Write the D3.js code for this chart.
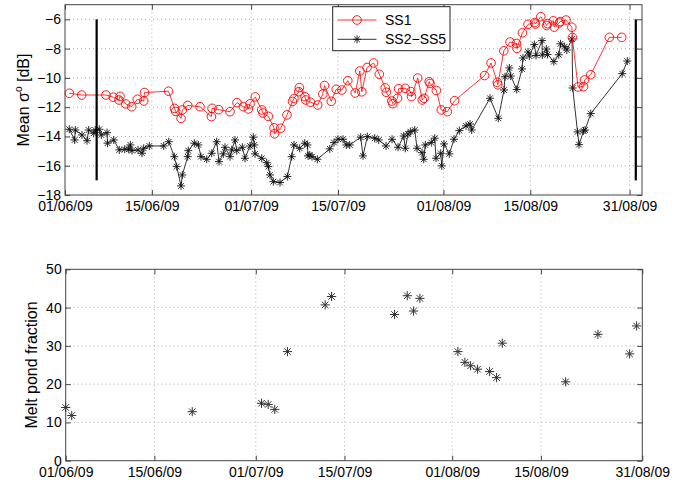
<!DOCTYPE html>
<html><head><meta charset="utf-8">
<script src="https://cdn.jsdelivr.net/npm/d3@7"></script>
<style>
body{margin:0;background:#fff}
svg{display:block}
text{font-family:"Liberation Sans",Arial,Helvetica,sans-serif;fill:#000}
</style>
</head><body>
<svg id="c" width="682" height="482"></svg>
<script>
// ---- data (days since 01/06/2009) ----
const ss1Day = [0.69,2.69,6.61,7.79,8.70,8.87,9.78,10.75,11.65,12.69,12.81,16.68,17.65,17.84,18.70,18.91,19.78,21.76,23.60,23.70,24.77,26.60,27.72,28.74,29.55,29.82,30.67,31.71,31.92,32.77,33.69,33.77,34.77,35.78,36.67,36.91,37.68,37.77,38.68,38.80,39.56,40.73,41.55,41.83,42.91,43.71,44.62,45.58,46.78,47.52,47.84,48.68,49.74,50.66,51.61,51.79,52.68,52.84,53.60,53.76,54.84,55.74,55.85,56.85,57.59,57.87,58.70,58.83,59.85,60.64,61.62,62.80,67.63,68.67,69.68,69.76,70.73,71.73,72.76,72.84,73.73,74.63,75.69,75.82,76.69,77.64,77.79,78.71,78.85,79.67,79.82,80.75,81.69,81.77,82.69,83.59,83.74,84.74,87.73,89.73];
const ss1Val = [-11.05,-11.17,-11.17,-11.32,-11.51,-11.26,-11.78,-11.97,-11.46,-11.58,-11.00,-10.91,-12.08,-12.29,-12.77,-12.19,-11.88,-11.97,-12.65,-12.08,-12.17,-12.31,-11.69,-11.97,-12.12,-11.77,-11.30,-12.19,-12.40,-12.63,-13.41,-13.82,-13.44,-12.53,-11.61,-11.41,-10.94,-10.66,-11.28,-11.51,-11.66,-11.85,-11.11,-10.52,-11.60,-10.78,-10.83,-10.19,-11.03,-9.53,-10.95,-9.29,-8.98,-9.75,-10.68,-10.98,-11.58,-11.76,-11.39,-10.74,-10.71,-10.93,-11.28,-10.01,-11.51,-11.39,-10.26,-10.38,-10.86,-12.19,-12.31,-11.56,-9.84,-8.98,-10.30,-10.47,-8.15,-7.55,-7.65,-7.98,-6.92,-6.34,-6.22,-6.32,-5.82,-6.42,-6.29,-6.10,-6.53,-6.25,-6.15,-6.05,-6.54,-7.24,-10.62,-10.60,-10.14,-9.78,-7.23,-7.23];

const ss25Day = [0.69,1.56,1.66,2.74,3.55,3.82,4.63,4.88,5.53,5.85,6.77,6.85,7.85,8.75,9.62,10.27,10.53,10.80,11.77,12.41,12.69,13.59,15.91,16.72,17.62,18.00,18.70,18.91,19.78,19.87,20.84,21.49,21.92,22.84,23.65,24.45,24.82,25.52,25.79,26.60,26.87,27.40,27.68,28.58,29.01,29.82,30.35,30.51,30.63,31.71,32.51,32.77,33.04,33.58,34.66,35.83,36.54,36.91,37.83,38.64,39.06,39.17,39.44,39.81,40.67,42.67,43.36,44.00,44.81,45.34,45.89,47.66,48.03,48.73,49.92,50.56,51.74,52.71,53.68,54.59,54.85,55.29,55.66,56.37,56.74,57.54,57.82,58.07,59.04,59.59,59.80,60.56,60.72,61.09,61.94,62.70,63.56,64.64,65.28,65.55,68.50,69.84,70.76,70.92,71.62,71.84,72.81,73.66,73.82,74.63,74.84,75.65,75.92,76.89,76.94,77.58,77.77,78.79,79.59,79.87,80.53,80.88,81.72,81.83,82.61,82.85,83.58,83.82,84.74,89.81,90.63];
const ss25Val = [-13.51,-14.24,-13.56,-13.90,-14.29,-13.56,-13.78,-13.56,-13.51,-13.90,-13.74,-14.46,-14.24,-14.92,-14.87,-14.87,-14.58,-14.97,-14.92,-15.15,-14.81,-14.65,-14.65,-14.36,-15.38,-16.06,-17.38,-16.63,-15.38,-14.97,-14.46,-14.58,-15.38,-15.56,-15.15,-14.36,-15.72,-15.19,-14.74,-15.38,-14.92,-14.24,-14.97,-14.74,-15.49,-14.65,-14.05,-14.58,-15.19,-15.49,-15.79,-16.06,-16.63,-17.09,-17.15,-16.74,-15.38,-14.58,-14.81,-14.46,-14.58,-15.33,-15.26,-15.38,-15.56,-14.85,-14.42,-14.19,-14.19,-14.58,-14.58,-14.05,-15.33,-14.01,-14.12,-14.24,-14.65,-14.19,-14.74,-13.97,-14.81,-13.83,-13.67,-13.56,-14.81,-15.11,-15.56,-14.58,-14.42,-14.12,-15.49,-15.15,-16.01,-14.51,-15.19,-14.19,-13.60,-13.28,-13.15,-13.56,-11.39,-12.76,-10.83,-9.92,-9.32,-9.87,-10.79,-9.39,-8.64,-8.23,-8.51,-7.72,-8.47,-7.45,-8.44,-8.03,-8.40,-8.89,-8.42,-7.67,-7.87,-8.10,-7.34,-10.69,-13.69,-14.56,-13.62,-13.56,-12.44,-9.71,-8.85];

const pondDay = [0,0.95,19.97,30.9,31.96,33.0,35.0,40.95,41.96,51.9,53.9,54.9,55.9,61.9,63.0,63.9,65.0,66.9,68.0,68.9,78.9,84.0,89.0,90.1];
const pondVal = [13.9,11.8,12.8,15.0,14.7,13.4,28.5,40.7,42.9,38.2,43.1,39.1,42.4,28.5,25.7,24.8,23.9,23.3,21.7,30.7,20.6,33.0,27.9,35.2];

const periodDay = [5.1, 92.0];          // thick vertical markers
const periodRange = [-17, -6];
const dateTicks = ["2009-06-01","2009-06-15","2009-07-01","2009-07-15","2009-08-01","2009-08-15","2009-08-31"];
const sigmaTicks = [-18,-16,-14,-12,-10,-8,-6];
const pondTicks = [0,10,20,30,40,50];
const seriesNames = ["SS1","SS2\u2212SS5"];

// ---- helpers ----
const DAY = 864e5;
const t0 = Date.UTC(2009,5,1);
const toDate = d => new Date(t0 + d*DAY);
const tickDates = dateTicks.map(s => new Date(s+"T00:00:00Z"));
const fmtDate = d3.utcFormat("%d/%m/%y");
const fmtNum = v => (v<0 ? "\u2212"+Math.abs(v) : ""+v);

const svg = d3.select("#c");
const RED = "#ff0000";
const BOX = "#444";

function asterisk(s){
  const k = s*0.7071;
  return `M${-s},0L${s},0M0,${-s}L0,${s}M${-k},${-k}L${k},${k}M${-k},${k}L${k},${-k}`;
}

function panel(cfg){
  const {x, y, xTicks, yTicks, L, R, T, B} = cfg;
  const g = svg.append("g");
  const gg = g.append("g").attr("stroke","#9a9a9a").attr("stroke-width",0.8).attr("stroke-dasharray","1,3");
  gg.selectAll("line.v").data(xTicks.filter(t => x(t) > L+1 && x(t) < R-1)).join("line")
    .attr("x1",d=>x(d)).attr("x2",d=>x(d)).attr("y1",T).attr("y2",B);
  gg.selectAll("line.h").data(yTicks.filter(t => y(t) > T+1 && y(t) < B-1)).join("line")
    .attr("y1",d=>y(d)).attr("y2",d=>y(d)).attr("x1",L).attr("x2",R);
  const ax = (sel) => sel.call(s => s.select(".domain").remove())
      .call(s => s.selectAll(".tick line").attr("stroke",BOX))
      .call(s => s.selectAll("text").attr("font-size",14).attr("font-family","'Liberation Sans',Arial,sans-serif").attr("fill","#000"));
  g.append("g").attr("transform",`translate(0,${B})`)
    .call(d3.axisBottom(x).tickValues(xTicks).tickFormat(fmtDate).tickSizeInner(-5).tickSizeOuter(0).tickPadding(6)).call(ax);
  g.append("g").attr("transform",`translate(0,${T})`)
    .call(d3.axisTop(x).tickValues(xTicks).tickFormat("").tickSizeInner(-5).tickSizeOuter(0)).call(ax);
  g.append("g").attr("transform",`translate(${L},0)`)
    .call(d3.axisLeft(y).tickValues(yTicks).tickFormat(fmtNum).tickSizeInner(-5).tickSizeOuter(0).tickPadding(4)).call(ax);
  g.append("g").attr("transform",`translate(${R},0)`)
    .call(d3.axisRight(y).tickValues(yTicks).tickFormat("").tickSizeInner(-5).tickSizeOuter(0)).call(ax);
  g.append("rect").attr("x",L).attr("y",T).attr("width",R-L).attr("height",B-T)
    .attr("fill","none").attr("stroke",BOX).attr("stroke-width",1);
  return g;
}

// ---- top panel ----
const T1 = {L:65, R:642, T:4.7, B:195};
const x1 = d3.scaleUtc().domain([toDate(0), toDate(93)]).range([T1.L, T1.R]);
const y1 = d3.scaleLinear().domain([-18,-5]).range([T1.B, T1.T]);
const p1 = panel({x:x1, y:y1, xTicks:tickDates, yTicks:sigmaTicks, ...T1});

const ss1 = ss1Day.map((d,i)=>({t:toDate(d), v:ss1Val[i]}));
const ss25 = ss25Day.map((d,i)=>({t:toDate(d), v:ss25Val[i]}));
const line1 = d3.line().x(d=>x1(d.t)).y(d=>y1(d.v));

p1.append("path").datum(ss25).attr("d",line1).attr("fill","none").attr("stroke","#000").attr("stroke-width",0.8);
p1.append("g").selectAll("path").data(ss25).join("path")
  .attr("transform",d=>`translate(${x1(d.t)},${y1(d.v)})`).attr("d",asterisk(4))
  .attr("stroke","#111").attr("stroke-width",0.9).attr("fill","none");

p1.append("path").datum(ss1).attr("d",line1).attr("fill","none").attr("stroke",RED).attr("stroke-width",0.8);
p1.append("g").selectAll("circle").data(ss1).join("circle")
  .attr("cx",d=>x1(d.t)).attr("cy",d=>y1(d.v)).attr("r",4.3)
  .attr("fill","none").attr("stroke",RED).attr("stroke-width",0.9);

p1.append("g").selectAll("line").data(periodDay).join("line")
  .attr("x1",d=>x1(toDate(d))).attr("x2",d=>x1(toDate(d)))
  .attr("y1",y1(periodRange[0])).attr("y2",y1(periodRange[1]))
  .attr("stroke","#000").attr("stroke-width",2.2);

// legend
const lg = p1.append("g");
lg.append("rect").attr("x",332.7).attr("y",6.7).attr("width",117.3).attr("height",44)
  .attr("fill","#fff").attr("stroke","#222").attr("stroke-width",1);
const rows = [20, 39.3];
lg.append("line").attr("x1",337.5).attr("x2",376.5).attr("y1",rows[0]).attr("y2",rows[0]).attr("stroke",RED).attr("stroke-width",0.8);
lg.append("circle").attr("cx",357).attr("cy",rows[0]).attr("r",4.3).attr("fill","none").attr("stroke",RED).attr("stroke-width",0.9);
lg.append("line").attr("x1",337.5).attr("x2",376.5).attr("y1",rows[1]).attr("y2",rows[1]).attr("stroke","#000").attr("stroke-width",0.8);
lg.append("path").attr("transform",`translate(357,${rows[1]})`).attr("d",asterisk(4)).attr("stroke","#111").attr("stroke-width",0.9).attr("fill","none");
lg.selectAll("text").data(seriesNames).join("text")
  .attr("x",385).attr("y",(d,i)=>rows[i]).attr("dy","0.36em").attr("font-size",14).text(d=>d);

const yl1 = svg.append("text").attr("transform",`translate(29,100) rotate(-90)`)
  .attr("text-anchor","middle").attr("font-size",16);
yl1.append("tspan").text("Mean \u03C3");
yl1.append("tspan").attr("font-size",10).attr("dy",-7).text("o");
yl1.append("tspan").attr("dy",7).text(" [dB]");

// ---- bottom panel ----
const T2 = {L:65.7, R:642.3, T:269.3, B:460.7};
const x2 = d3.scaleUtc().domain([toDate(0), toDate(91)]).range([T2.L, T2.R]);
const y2 = d3.scaleLinear().domain([0,50]).range([T2.B, T2.T]);
const p2 = panel({x:x2, y:y2, xTicks:tickDates, yTicks:pondTicks, ...T2});
const pond = pondDay.map((d,i)=>({t:toDate(d), v:pondVal[i]}));
p2.append("g").selectAll("path").data(pond).join("path")
  .attr("transform",d=>`translate(${x2(d.t)},${y2(d.v)})`).attr("d",asterisk(4.6))
  .attr("stroke","#333").attr("stroke-width",1).attr("fill","none");

svg.append("text").attr("transform",`translate(37,365) rotate(-90)`)
  .attr("text-anchor","middle").attr("font-size",16).text("Melt pond fraction");
</script>
</body></html>
